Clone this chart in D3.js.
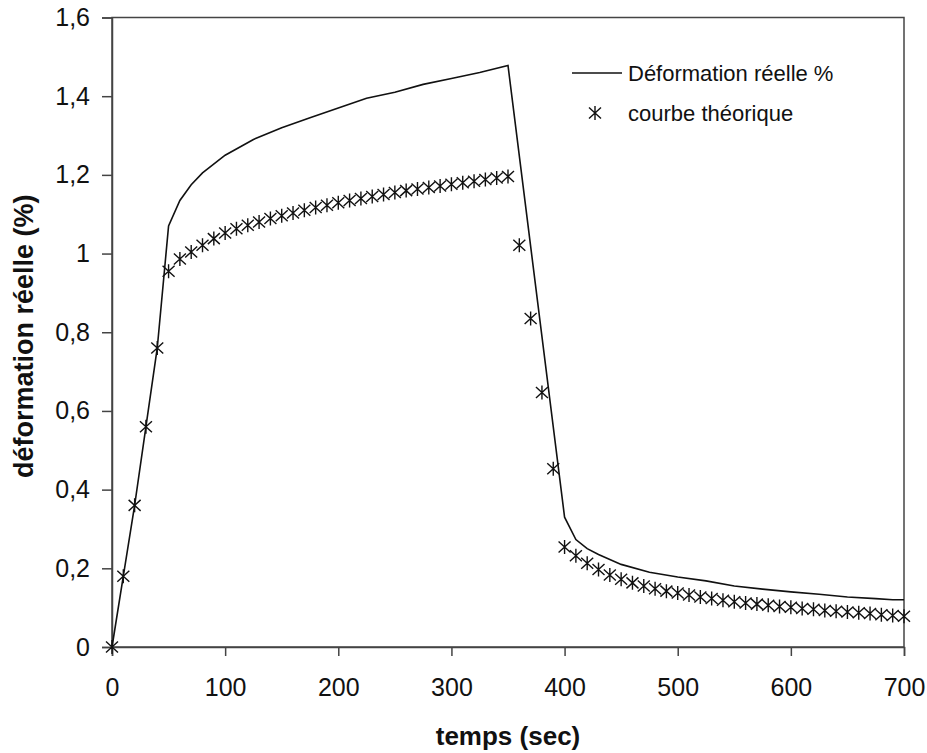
<!DOCTYPE html>
<html><head><meta charset="utf-8">
<script src="https://cdn.jsdelivr.net/npm/d3@7"></script>
<style>body{margin:0;background:#fff}svg{display:block}</style>
</head><body>
<svg id="c" width="927" height="753"></svg>
<script>
// Data: measured curve (Déformation réelle %)
const measT = [0,10,20,30,40,50,60,70,80,100,125,150,175,200,225,250,275,300,325,350,400,410,420,430,450,475,500,525,550,575,600,625,650,675,690,700];
const measV = [0,0.18,0.36,0.56,0.76,1.07,1.135,1.175,1.205,1.25,1.29,1.32,1.345,1.37,1.395,1.41,1.43,1.445,1.46,1.478,0.33,0.273,0.25,0.235,0.21,0.19,0.178,0.168,0.155,0.147,0.14,0.134,0.127,0.123,0.12,0.12];
// Theoretical curve markers
const theoT = [0,10,20,30,40,50,60,70,80,90,100,110,120,130,140,150,160,170,180,190,200,210,220,230,240,250,260,270,280,290,300,310,320,330,340,350,
  360,370,380,390,400,410,420,430,440,450,460,470,480,490,500,510,520,530,540,550,560,570,580,590,600,610,620,630,640,650,660,670,680,690,700];
const theoV = [0,0.18,0.36,0.56,0.76,0.955,0.986,1.004,1.021,1.038,1.052,1.063,1.072,1.08,1.089,1.096,1.103,1.11,1.117,1.123,1.129,1.135,1.14,1.145,1.15,1.155,1.16,1.164,1.168,1.172,1.176,1.18,1.184,1.188,1.192,1.196,
  1.021,0.835,0.647,0.453,0.254,0.232,0.213,0.197,0.183,0.172,0.163,0.155,0.148,0.142,0.137,0.132,0.127,0.123,0.119,0.115,0.112,0.109,0.106,0.103,0.101,0.098,0.096,0.093,0.091,0.089,0.087,0.085,0.082,0.080,0.078];
const xTicks = [0,100,200,300,400,500,600,700];
const yTicks = [0,0.2,0.4,0.6,0.8,1,1.2,1.4,1.6];
const yTickLabels = ["0","0,2","0,4","0,6","0,8","1","1,2","1,4","1,6"];
const legendLabels = ["Déformation réelle %","courbe théorique"];
const xTitle = "temps (sec)";
const yTitle = "déformation réelle (%)";

const svg = d3.select("#c");
const L = 112, R = 904, T = 17.5, B = 647;
const x = d3.scaleLinear().domain([0,700]).range([L,R]);
const y = d3.scaleLinear().domain([0,1.6]).range([B,T]);
const font = "'Liberation Sans', Arial, sans-serif";
const axisCol = "#444";

// frame
svg.append("rect").attr("x",L).attr("y",T).attr("width",R-L).attr("height",B-T)
  .attr("fill","none").attr("stroke",axisCol).attr("stroke-width",1.5);

// y axis
const yAx = svg.append("g").attr("transform",`translate(${L},0)`)
  .call(d3.axisLeft(y).tickValues(yTicks).tickSize(10).tickPadding(12).tickFormat((d,i)=>yTickLabels[i]));
yAx.select(".domain").attr("stroke",axisCol).attr("stroke-width",1.5);
yAx.selectAll(".tick line").attr("stroke",axisCol).attr("stroke-width",1.5);
yAx.selectAll("text").attr("font-family",font).attr("font-size",25).attr("fill","#111");

// x axis
const xAx = svg.append("g").attr("transform",`translate(0,${B})`)
  .call(d3.axisBottom(x).tickValues(xTicks).tickSize(9).tickPadding(22).tickFormat(d3.format("d")));
xAx.select(".domain").attr("stroke",axisCol).attr("stroke-width",1.5);
xAx.selectAll(".tick line").attr("stroke",axisCol).attr("stroke-width",1.5);
xAx.selectAll("text").attr("font-family",font).attr("font-size",25).attr("fill","#111");

// titles
svg.append("text").attr("x",(L+R)/2).attr("y",745).attr("text-anchor","middle")
  .attr("font-family",font).attr("font-weight","bold").attr("font-size",26).attr("fill","#111").text(xTitle);
svg.append("text").attr("transform",`translate(33,${(T+B)/2+4}) rotate(-90)`).attr("text-anchor","middle")
  .attr("font-family",font).attr("font-weight","bold").attr("font-size",27).attr("fill","#111").text(yTitle);

// measured line
const meas = measT.map((t,i)=>[t,measV[i]]);
svg.append("path").datum(meas)
  .attr("d",d3.line().x(d=>x(d[0])).y(d=>y(d[1])))
  .attr("fill","none").attr("stroke","#111").attr("stroke-width",1.6);

// asterisk marker
const star = "M-6,-5.5L6,5.5M-6,5.5L6,-5.5M0,-7L0,7";
const theo = theoT.map((t,i)=>[t,theoV[i]]);
svg.append("g").selectAll("path").data(theo).join("path")
  .attr("transform",d=>`translate(${x(d[0])},${y(d[1])})`)
  .attr("d",star).attr("fill","none").attr("stroke","#111").attr("stroke-width",1.4);

// legend
const lg = svg.append("g");
lg.append("line").attr("x1",572).attr("x2",622).attr("y1",73).attr("y2",73).attr("stroke","#111").attr("stroke-width",1.6);
lg.append("text").attr("x",628).attr("y",80.5).attr("font-family",font).attr("font-size",22).attr("fill","#111").text(legendLabels[0]);
lg.append("path").attr("transform","translate(595,113)").attr("d",star).attr("fill","none").attr("stroke","#111").attr("stroke-width",1.4);
lg.append("text").attr("x",628).attr("y",121).attr("font-family",font).attr("font-size",22).attr("fill","#111").text(legendLabels[1]);
</script>
</body></html>
